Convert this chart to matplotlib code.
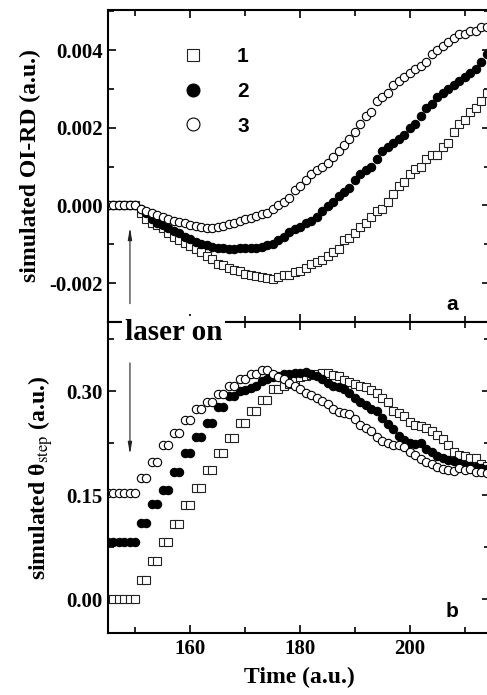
import matplotlib
matplotlib.use('Agg')
import matplotlib.pyplot as plt
from matplotlib.ticker import MultipleLocator

plt.rcParams['font.family'] = ['Liberation Serif', 'DejaVu Serif']
plt.rcParams['mathtext.fontset'] = 'stix'

# time axis (a.u.), one sample per unit
time = list(range(145, 215))

# panel a: simulated OI-RD
rd_1 = [0, 0, 0, 0, 0, 0, -0.0002, -0.00035, -0.00045, -0.0005,
        -0.00057, -0.0007, -0.0008, -0.0009, -0.00096, -0.00105, -0.00113, -0.0012, -0.0013, -0.00137,
        -0.0015, -0.00153, -0.0016, -0.00165, -0.0017, -0.00176, -0.0018, -0.00181, -0.00183, -0.00186,
        -0.0019, -0.00183, -0.0018, -0.00178, -0.00172, -0.00168, -0.0016, -0.00152, -0.00145, -0.0014,
        -0.0013, -0.0012, -0.00113, -0.0009, -0.00083, -0.0007, -0.00055, -0.00045, -0.0003, -0.00015,
        -0.0001, 0.0001, 0.0003, 0.0005, 0.0006, 0.0008, 0.00095, 0.001, 0.0012, 0.0013,
        0.0013, 0.0015, 0.0016, 0.0019, 0.0021, 0.0022, 0.0024, 0.0025, 0.0027, 0.0029]
rd_2 = [0, 0, 0, 0, 0, 0, -0.0001, -0.0002, -0.00035, -0.00045,
        -0.0005, -0.00058, -0.00065, -0.00072, -0.0008, -0.00087, -0.00093, -0.00098, -0.00102, -0.00106,
        -0.00109, -0.0011, -0.00111, -0.00111, -0.0011, -0.00109, -0.00109, -0.00109, -0.00107, -0.00103,
        -0.00098, -0.0009, -0.0008, -0.00068, -0.0006, -0.00055, -0.00046, -0.0004, -0.0003, -0.00015,
        -0.00002, 0.0001, 0.00025, 0.00035, 0.00045, 0.00065, 0.0008, 0.0009, 0.001, 0.0012,
        0.0014, 0.0015, 0.0016, 0.0017, 0.0018, 0.002, 0.0021, 0.0023, 0.0025, 0.0026,
        0.0028, 0.0029, 0.003, 0.0031, 0.0032, 0.0033, 0.0034, 0.0035, 0.0037, 0.0039]
rd_3 = [0, 0, 0, 0, 0, 0, -0.00008, -0.00015, -0.0002, -0.00025,
        -0.0003, -0.00035, -0.0004, -0.00042, -0.00045, -0.0005, -0.00053, -0.00056, -0.00057, -0.00057,
        -0.00055, -0.00052, -0.00048, -0.00044, -0.0004, -0.00036, -0.00033, -0.00028, -0.00023, -0.00019,
        -0.0001, 0.0, 0.0001, 0.0002, 0.0004, 0.0005, 0.00065, 0.0008, 0.0009, 0.001,
        0.0011, 0.00125, 0.0014, 0.00155, 0.0017, 0.0019, 0.0021, 0.0023, 0.0024, 0.0027,
        0.0028, 0.0029, 0.0031, 0.0032, 0.0033, 0.0034, 0.0035, 0.0036, 0.0037, 0.0039,
        0.004, 0.0041, 0.0042, 0.0043, 0.0044, 0.0044, 0.0045, 0.0045, 0.0046, 0.0046]

# panel b: simulated theta_step
th_1 = [0, 0, 0, 0, 0, 0, 0.028, 0.028, 0.055, 0.055,
        0.082, 0.082, 0.109, 0.109, 0.136, 0.136, 0.161, 0.161, 0.186, 0.186,
        0.211, 0.211, 0.233, 0.233, 0.254, 0.254, 0.272, 0.272, 0.288, 0.288,
        0.303, 0.303, 0.308, 0.310, 0.315, 0.320, 0.322, 0.324, 0.325, 0.327,
        0.327, 0.324, 0.322, 0.316, 0.314, 0.311, 0.308, 0.306, 0.302, 0.298,
        0.290, 0.285, 0.272, 0.268, 0.264, 0.256, 0.251, 0.250, 0.247, 0.243,
        0.237, 0.231, 0.222, 0.212, 0.208, 0.206, 0.204, 0.203, 0.195, 0.192]
th_2 = [0.083, 0.083, 0.083, 0.083, 0.083, 0.083, 0.110, 0.110, 0.137, 0.137,
        0.158, 0.158, 0.184, 0.184, 0.2105, 0.2105, 0.234, 0.234, 0.2535, 0.2535,
        0.278, 0.278, 0.293, 0.293, 0.300, 0.302, 0.305, 0.308, 0.315, 0.318,
        0.320, 0.322, 0.325, 0.325, 0.326, 0.327, 0.328, 0.325, 0.322, 0.317,
        0.312, 0.308, 0.306, 0.303, 0.298, 0.290, 0.285, 0.280, 0.275, 0.271,
        0.262, 0.253, 0.245, 0.236, 0.229, 0.226, 0.224, 0.225, 0.216, 0.212,
        0.207, 0.203, 0.201, 0.199, 0.197, 0.194, 0.192, 0.190, 0.189, 0.188]
th_3 = [0.153, 0.153, 0.153, 0.153, 0.153, 0.153, 0.175, 0.175, 0.198, 0.198,
        0.222, 0.222, 0.240, 0.240, 0.259, 0.259, 0.274, 0.274, 0.285, 0.285,
        0.296, 0.296, 0.308, 0.308, 0.318, 0.318, 0.325, 0.325, 0.330, 0.330,
        0.325, 0.320, 0.318, 0.312, 0.308, 0.303, 0.298, 0.294, 0.290, 0.286,
        0.281, 0.274, 0.270, 0.269, 0.267, 0.260, 0.252, 0.247, 0.243, 0.234,
        0.228, 0.225, 0.223, 0.222, 0.220, 0.213, 0.208, 0.202, 0.198, 0.195,
        0.190, 0.188, 0.186, 0.185, 0.189, 0.186, 0.188, 0.184, 0.183, 0.182]

labels = ['1', '2', '3']

fig = plt.figure(figsize=(4.87, 6.95), dpi=100, facecolor='white')
ax_a = fig.add_axes([108 / 487, 1 - 322 / 695, 382 / 487, 312 / 695])
ax_b = fig.add_axes([108 / 487, 1 - 633 / 695, 382 / 487, 311 / 695])


def draw_series(ax, s1, s2, s3):
    ax.plot(time, s1, ls='none', marker='s', ms=5.2, mfc='white', mec='#222222', mew=0.8, label=labels[0])
    ax.plot(time, s2, ls='none', marker='o', ms=6.0, mfc='black', mec='black', mew=0.8, label=labels[1])
    ax.plot(time, s3, ls='none', marker='o', ms=6.0, mfc='white', mec='black', mew=0.8, label=labels[2])


def style_axes(ax):
    ax.set_xlim(145, 214.6)
    ax.xaxis.set_major_locator(MultipleLocator(20))
    ax.xaxis.set_minor_locator(MultipleLocator(10))
    ax.tick_params(which='both', direction='in', top=True, right=True, width=1.2)
    ax.tick_params(which='major', length=6, labelsize=15, pad=4)
    ax.tick_params(which='minor', length=4)
    for sp in ax.spines.values():
        sp.set_linewidth(1.5)
    for lab in ax.get_xticklabels() + ax.get_yticklabels():
        lab.set_fontweight('bold')


draw_series(ax_a, rd_1, rd_2, rd_3)
ax_a.set_ylim(-0.003, 0.00503)
ax_a.yaxis.set_major_locator(MultipleLocator(0.002))
ax_a.yaxis.set_minor_locator(MultipleLocator(0.001))
ax_a.set_yticks([-0.002, 0.0, 0.002, 0.004])
ax_a.set_yticklabels(['-0.002', '0.000', '0.002', '0.004'])
style_axes(ax_a)
ax_a.tick_params(labelbottom=False)
ax_a.set_ylabel('simulated OI-RD (a.u.)', fontsize=17, fontweight='bold', labelpad=6)
ax_a.text(0.885, 0.04, 'a', transform=ax_a.transAxes, fontsize=15,
          fontweight='bold', family='Liberation Sans')

leg = ax_a.legend(loc='upper left', bbox_to_anchor=(0.196, 0.88), frameon=False,
                  markerscale=1.55, handlelength=1.0, handletextpad=1.6,
                  labelspacing=0.75, borderpad=0, borderaxespad=0,
                  prop={'family': 'Liberation Sans', 'weight': 'bold', 'size': 15})

ax_a.annotate('', xy=(149, -0.0005), xytext=(149, -0.0026),
              arrowprops=dict(arrowstyle='-|>,head_length=0.7,head_width=0.12',
                              lw=0.8, color='#222222'))

draw_series(ax_b, th_1, th_2, th_3)
ax_b.set_ylim(-0.049, 0.40)
ax_b.yaxis.set_major_locator(MultipleLocator(0.15))
ax_b.yaxis.set_minor_locator(MultipleLocator(0.075))
ax_b.set_yticks([0.0, 0.15, 0.30])
ax_b.set_yticklabels(['0.00', '0.15', '0.30'])
style_axes(ax_b)
ax_b.set_ylabel('simulated \u03b8$_{\\mathrm{step}}$ (a.u.)', fontsize=17, fontweight='bold', labelpad=8)
ax_b.set_xlabel('Time (a.u.)', fontsize=17, fontweight='bold', labelpad=6)
ax_b.text(0.885, 0.05, 'b', transform=ax_b.transAxes, fontsize=15,
          fontweight='bold', family='Liberation Sans')

ax_b.annotate('', xy=(149, 0.205), xytext=(149, 0.345),
              arrowprops=dict(arrowstyle='-|>,head_length=0.7,head_width=0.12',
                              lw=0.8, color='#222222'))

fig.text(125 / 487, 1 - 332 / 695, 'laser on', fontsize=21, fontweight='bold',
         ha='left', va='center', zorder=10,
         bbox=dict(facecolor='white', edgecolor='none', pad=2))

fig.savefig('out.png', dpi=100, facecolor='white')
